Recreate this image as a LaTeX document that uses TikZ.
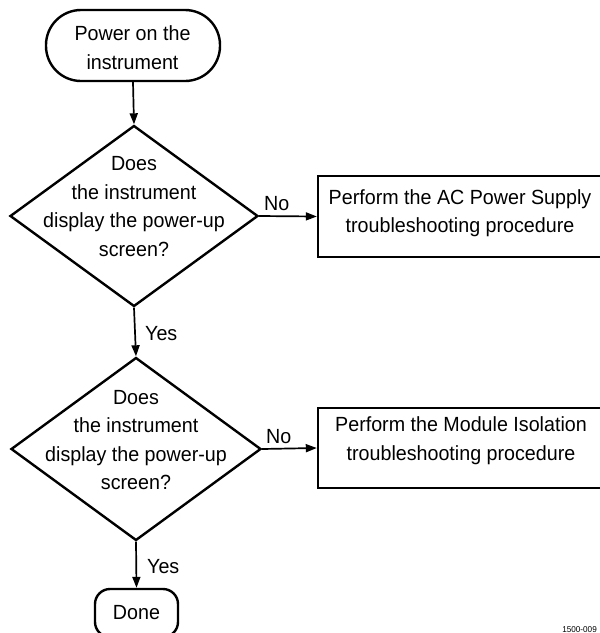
\documentclass[tikz,border=0pt]{standalone}
\usepackage{fontspec}
\setmainfont{Liberation Sans}[FakeStretch=0.96]
\usetikzlibrary{shapes.geometric,arrows.meta}
\begin{document}
\begin{tikzpicture}[x=1pt,y=-1pt,
  txt/.style={font=\fontsize{20.5}{28.6}\selectfont, align=center, inner sep=0pt},
  outline/.style={draw, line width=2.4pt, inner sep=0pt},
  term/.style={outline, rounded corners=#1},
  decision/.style={outline, diamond},
  procbox/.style={outline, rectangle},
  conn/.style={line width=1.7pt, -{Triangle[length=11pt,width=8pt]}},
  tag/.style={txt, anchor=base west}
]
\useasboundingbox (0,0) rectangle (600,633);
\clip (0,0) rectangle (600,633);

% shapes
\node[term=35pt, minimum width=174pt, minimum height=71pt] (start) at (133,45.5) {};
\node[decision, minimum width=248pt, minimum height=181pt] (d1) at (134,216) {};
\node[procbox, minimum width=284pt, minimum height=81pt] (box1) at (460,216.5) {};
\node[decision, minimum width=250pt, minimum height=183pt] (d2) at (136,449) {};
\node[procbox, minimum width=284pt, minimum height=80pt] (box2) at (460,448) {};
\node[term=15pt, minimum width=83pt, minimum height=48pt] (done) at (136.5,613) {};

% texts
\node[txt] (tstart) at (132.5,47.7) {Power on the\\instrument};
\node[txt] (td1) at (134,206.7) {Does\\the instrument\\display the power-up\\screen?};
\node[txt] (tbox1) at (460,213.3) {Perform the AC Power Supply\\troubleshooting procedure};
\node[txt] (td2) at (136,440) {Does\\the instrument\\display the power-up\\screen?};
\node[txt] (tbox2) at (461,440.8) {Perform the Module Isolation\\troubleshooting procedure};
\node[txt] (tdone) at (136.5,612.9) {Done};

% connectors
\draw[conn] (start.south) -- (d1.north);
\draw[conn] (d1.east) -- (box1.west);
\draw[conn] (d1.south) -- (d2.north);
\draw[conn] (d2.east) -- (box2.west);
\draw[conn] (d2.south) -- (done.north);

% branch labels
\node[tag] (no1) at (264,210) {No};
\node[tag] (yes1) at (145,340) {Yes};
\node[tag] (no2) at (266,443) {No};
\node[tag] (yes2) at (147,573) {Yes};

% figure number
\node[font=\fontsize{8.5}{10}\selectfont, anchor=base east, inner sep=0pt] (fignum) at (597,632) {1500-009};
\end{tikzpicture}
\end{document}
